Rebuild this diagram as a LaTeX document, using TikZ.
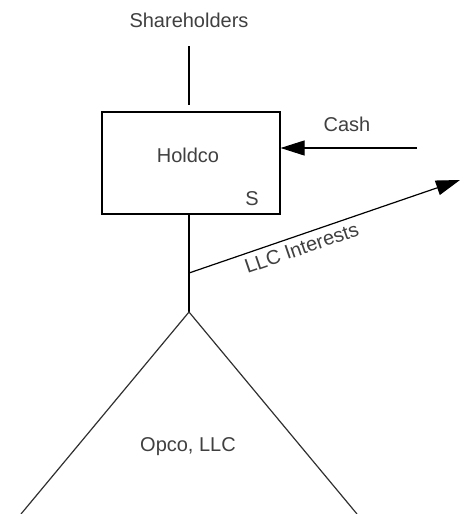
\documentclass[tikz,border=0pt]{standalone}
\usepackage{fontspec}
\setmainfont{Liberation Sans}
\usetikzlibrary{arrows.meta}
\definecolor{txt}{HTML}{404040}
\definecolor{ln}{HTML}{303030}
\tikzset{
  lbl/.style={text=txt, font=\fontsize{20}{23}\selectfont, inner sep=0pt},
  conn/.style={draw=black, line width=1.2pt},
  arr/.style={conn, -{Triangle[length=24pt,width=15pt]}},
  box/.style={draw=black, line width=1.2pt, minimum width=178pt, minimum height=102pt, inner sep=0pt}
}
\begin{document}
\begin{tikzpicture}[x=1pt,y=-1pt]
\useasboundingbox (0,0) rectangle (462,514);
\node[lbl] (sh) at (189,20) {Shareholders};
\coordinate (shline) at (189,46);
\node[box] (holdco) at (191,163) {};
\node[lbl] (hlab) at (188,155) {Holdco};
\node[lbl] (s) at (252,199) {S};
\coordinate (boxtop) at (189,105);
\draw[conn] (shline) -- (boxtop);
\coordinate (cashstart) at (417,148);
\draw[arr] (cashstart) -- (cashstart -| holdco.east);
\node[lbl] (cash) at (347,124) {Cash};
\coordinate (apex) at (189,312);
\coordinate (branch) at (189,273);
\draw[conn] (holdco.south -| apex) -- (apex);
\coordinate (llcend) at (460,180);
\draw[arr] (branch) -- node[lbl, pos=0.40, below=5pt, sloped] (llc) {LLC Interests} (llcend);
\coordinate (tl) at (21,514);
\coordinate (tr) at (357,514);
\draw[draw=ln, line width=1.2pt] (tl) -- (apex) -- (tr);
\node[lbl] (opco) at (188,447) {Opco, LLC};
\end{tikzpicture}
\end{document}
